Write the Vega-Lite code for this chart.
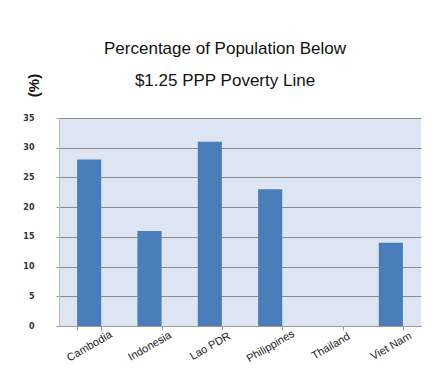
{
  "$schema": "https://vega.github.io/schema/vega-lite/v6.json",
  "autosize": {"type": "none"},
  "width": 362,
  "height": 208,
  "padding": {"left": 59, "top": 118, "right": 21, "bottom": 50},
  "background": "white",
  "title": {
    "text": ["Percentage of Population Below", "$1.25 PPP Poverty Line"],
    "font": "Liberation Sans",
    "fontSize": 17,
    "fontWeight": "normal",
    "color": "#111111",
    "lineHeight": 32,
    "anchor": "middle",
    "frame": "group",
    "dx": -15,
    "offset": -17
  },
  "data": {
    "values": [
      {"country": "Cambodia", "pct": 28},
      {"country": "Indonesia", "pct": 16},
      {"country": "Lao PDR", "pct": 31},
      {"country": "Philippines", "pct": 23},
      {"country": "Thailand", "pct": 0},
      {"country": "Viet Nam", "pct": 14}
    ]
  },
  "mark": {"type": "bar", "color": "#4a7ebb"},
  "encoding": {
    "x": {
      "field": "country",
      "type": "nominal",
      "sort": null,
      "scale": {"paddingInner": 0.6, "paddingOuter": 0.3},
      "axis": {
        "title": null,
        "labelAngle": -30,
        "labelAlign": "center",
        "labelBaseline": "middle",
        "labelPadding": 16,
        "labelFont": "Liberation Sans",
        "labelFontSize": 11,
        "labelColor": "#222222",
        "tickBand": "extent",
        "tickColor": "#999999",
        "tickSize": 4,
        "domainColor": "#999999",
        "grid": false
      }
    },
    "y": {
      "field": "pct",
      "type": "quantitative",
      "scale": {"domain": [0, 35]},
      "axis": {
        "title": "(%)",
        "titleFont": "Liberation Sans",
        "titleFontSize": 15,
        "titleFontWeight": "bold",
        "titleColor": "#111111",
        "titleAngle": -90,
        "titleX": -26,
        "titleY": -33,
        "titleAlign": "center",
        "titleBaseline": "middle",
        "values": [0, 5, 10, 15, 20, 25, 30, 35],
        "labelFont": "DejaVu Sans",
        "labelFontSize": 8,
        "labelFontWeight": "bold",
        "labelColor": "#333333",
        "labelPadding": 22,
        "tickSize": 3,
        "tickColor": "#999999",
        "gridColor": "#8c8c8c",
        "gridWidth": 1.2,
        "domainColor": "#bbbbbb"
      }
    }
  },
  "config": {
    "view": {"fill": "#dce5f1", "stroke": null}
  }
}
